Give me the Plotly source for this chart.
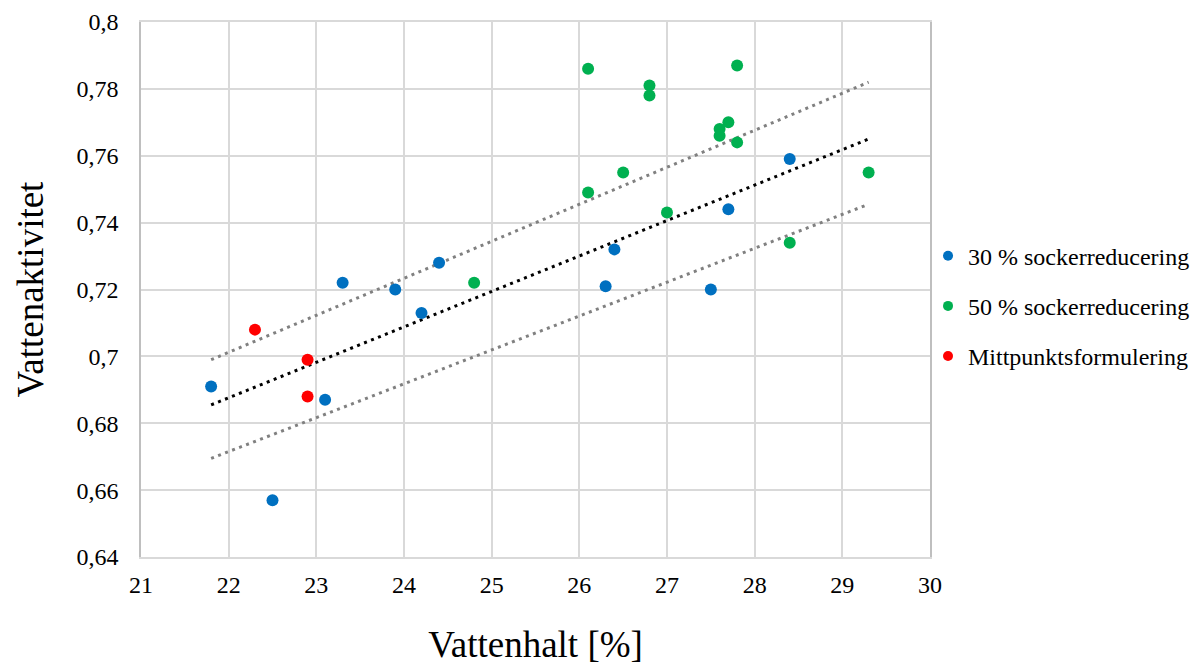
import plotly.graph_objects as go

# Data
blue_x = [21.8, 22.5, 23.1, 23.3, 23.9, 24.2, 24.4, 26.3, 26.4, 27.5, 27.7, 28.4]
blue_y = [0.691, 0.657, 0.687, 0.722, 0.720, 0.713, 0.728, 0.721, 0.732, 0.720, 0.744, 0.759]
green_x = [24.8, 26.1, 26.1, 26.5, 26.8, 26.8, 27.0, 27.6, 27.6, 27.7, 27.8, 27.8, 28.4, 29.3]
green_y = [0.722, 0.786, 0.749, 0.755, 0.781, 0.778, 0.743, 0.768, 0.766, 0.770, 0.787, 0.764, 0.734, 0.755]
red_x = [22.3, 22.9, 22.9]
red_y = [0.708, 0.699, 0.688]

trend_x = [21.8, 29.3]
trend_y = [0.6855, 0.765]
upper_y = [0.699, 0.782]
lower_y = [0.6695, 0.7455]

x_ticks = [21, 22, 23, 24, 25, 26, 27, 28, 29, 30]
y_ticks = [0.64, 0.66, 0.68, 0.70, 0.72, 0.74, 0.76, 0.78, 0.80]
y_ticktext = ["0,64", "0,66", "0,68", "0,7", "0,72", "0,74", "0,76", "0,78", "0,8"]

series_names = ["30 % sockerreducering", "50 % sockerreducering", "Mittpunktsformulering"]
series_colors = ["#0070c0", "#00b050", "#ff0000"]

FONT = "Liberation Serif, Times New Roman, serif"
GRID = "#d9d9d9"
DOT = "3px,4.5px"

fig = go.Figure()

fig.add_trace(go.Scatter(x=trend_x, y=upper_y, mode="lines", showlegend=False,
                         line=dict(color="#808080", width=3, dash=DOT), hoverinfo="skip"))
fig.add_trace(go.Scatter(x=trend_x, y=lower_y, mode="lines", showlegend=False,
                         line=dict(color="#808080", width=3, dash=DOT), hoverinfo="skip"))
fig.add_trace(go.Scatter(x=trend_x, y=trend_y, mode="lines", showlegend=False,
                         line=dict(color="#000000", width=3, dash=DOT), hoverinfo="skip"))

for xs, ys, nm, col in zip([blue_x, green_x, red_x], [blue_y, green_y, red_y],
                           series_names, series_colors):
    fig.add_trace(go.Scatter(x=xs, y=ys, mode="markers", name=nm, showlegend=False,
                             marker=dict(color=col, size=12)))

# legend-only entries with smaller symbols
for i, (nm, col) in enumerate(zip(series_names, series_colors)):
    fig.add_trace(go.Scatter(x=[None], y=[None], mode="markers", name=nm,
                             legendgroup=f"g{i}", marker=dict(color=col, size=10)))

fig.update_layout(
    width=1200, height=665,
    margin=dict(l=141, r=270, t=22, b=108, autoexpand=False),
    paper_bgcolor="white", plot_bgcolor="white",
    font=dict(family=FONT, color="#000000", size=24),
    legend=dict(x=0.9975, xanchor="left", y=0.469, yanchor="middle",
                font=dict(size=24, family=FONT, color="#000000"), tracegroupgap=16, itemwidth=30,
                bgcolor="rgba(0,0,0,0)"),
    xaxis=dict(range=[21, 30], tickvals=x_ticks, ticktext=[str(v) for v in x_ticks],
               showgrid=True, gridcolor=GRID, gridwidth=1.5, zeroline=False,
               showline=True, linecolor=GRID, linewidth=1.5, mirror=True,
               ticks="outside", ticklen=5, tickcolor="rgba(0,0,0,0)",
               tickfont=dict(size=24, family=FONT), automargin=False,
               title=dict(text="Vattenhalt [%]", font=dict(size=37, family=FONT), standoff=49)),
    yaxis=dict(range=[0.64, 0.80], tickvals=y_ticks, ticktext=y_ticktext,
               showgrid=True, gridcolor=GRID, gridwidth=1.5, zeroline=False,
               showline=True, linecolor="#bfbfbf", linewidth=1.5, mirror=True,
               ticks="outside", ticklen=16, tickcolor="rgba(0,0,0,0)",
               tickfont=dict(size=24, family=FONT), automargin=False,
               title=dict(text="Vattenaktivitet", font=dict(size=37, family=FONT), standoff=22)),
)

# remove the default page margin so the figure fills the window exactly
fig.write_html("out.html", config={"displayModeBar": False},
               post_script="document.body.style.margin='0';document.body.style.overflow='hidden';")
